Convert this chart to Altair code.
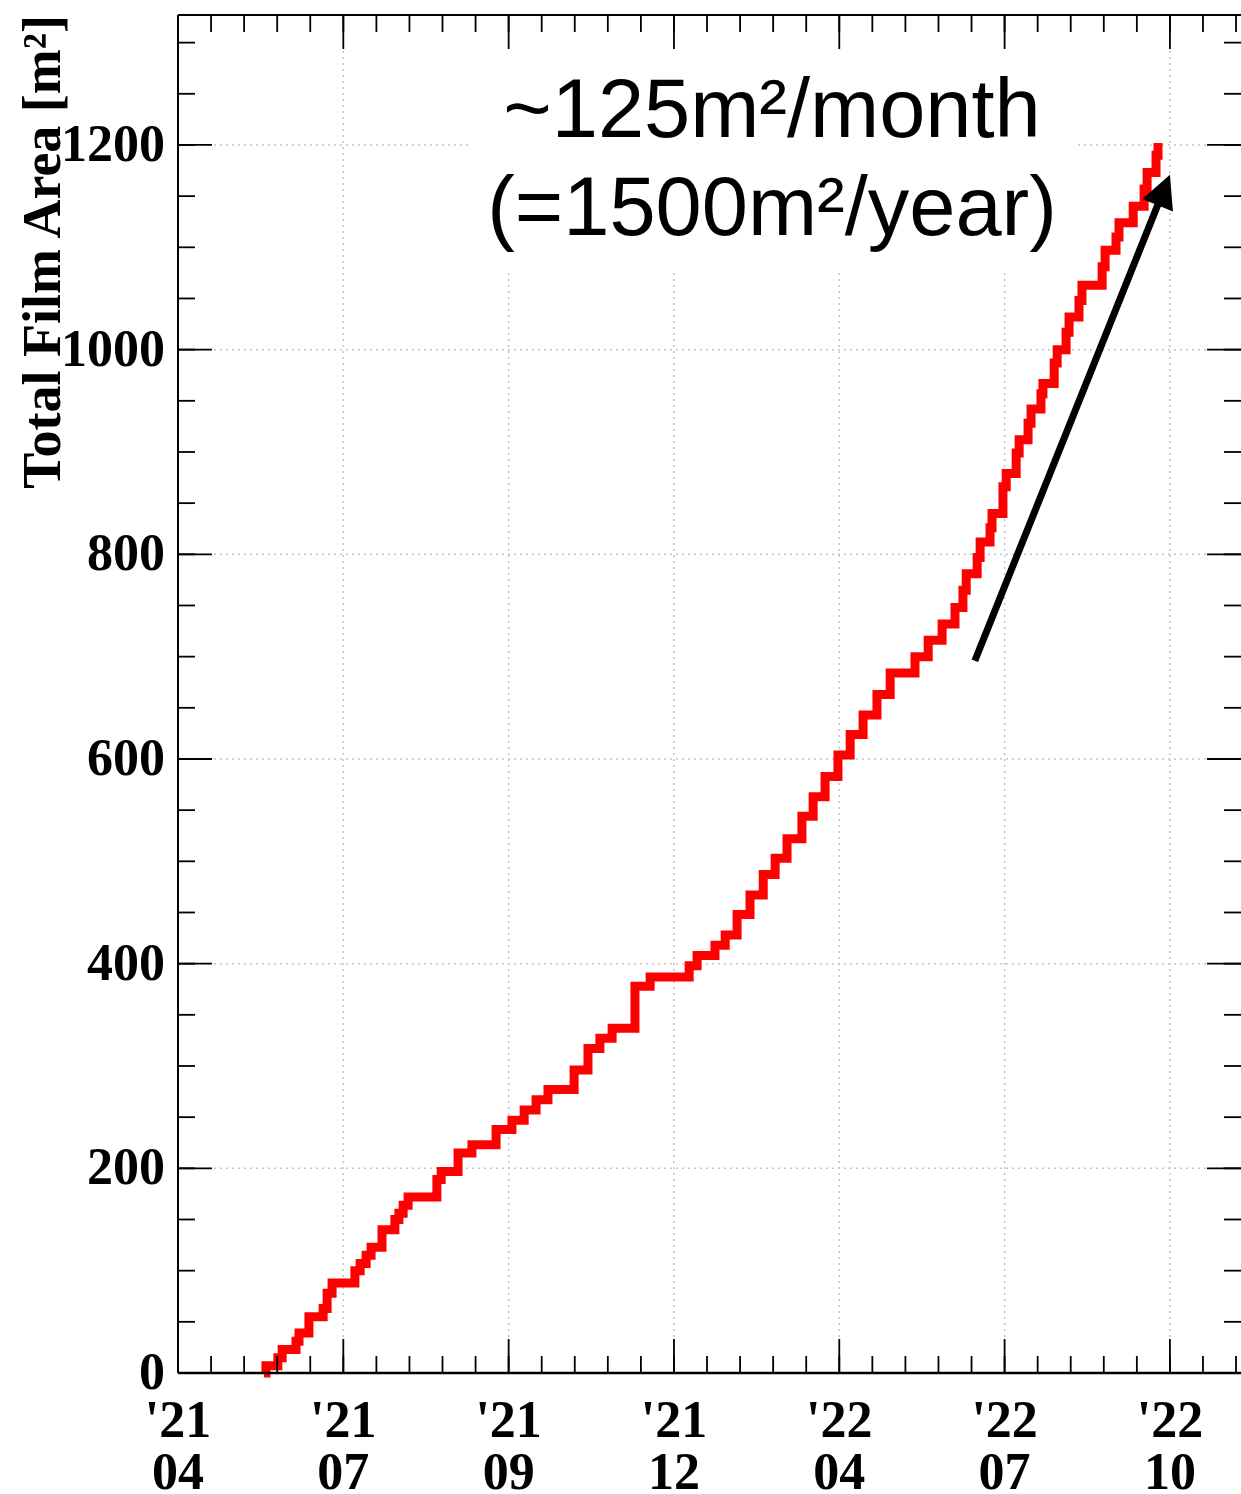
import math

import altair as alt
import pandas as pd

# Cumulative film area: each point starts a plateau (step-after)
step_x = [2.60, 2.66, 3.02, 3.15, 3.57, 3.66, 3.96, 4.39, 4.51, 4.66,
          5.35, 5.51, 5.69, 5.84, 6.17, 6.56, 6.68, 6.81, 6.96, 7.83,
          7.96, 8.47, 8.89, 9.62, 10.10, 10.47, 10.83, 11.19, 11.98, 12.40,
          12.76, 13.13, 13.82, 14.28, 15.46, 15.70, 16.24, 16.55, 16.91, 17.30,
          17.70, 18.06, 18.42, 18.87, 19.21, 19.57, 19.96, 20.33, 20.72, 21.14,
          21.54, 22.29, 22.69, 23.11, 23.50, 23.74, 23.84, 24.17, 24.26, 24.56,
          24.62, 24.95, 25.05, 25.35, 25.44, 25.71, 25.80, 26.10, 26.16, 26.50,
          26.59, 26.86, 26.95, 27.25, 27.34, 27.95, 28.04, 28.37, 28.46, 28.89,
          29.22, 29.31, 29.58, 29.64]
step_y = [0, 7, 15, 23, 31, 39, 55, 63, 78, 88,
          100, 107, 115, 123, 140, 150, 156, 164, 172, 189,
          197, 215, 223, 238, 247, 257, 267, 277, 296, 317,
          327, 337, 378, 387, 398, 408, 418, 428, 448, 467,
          487, 503, 522, 544, 563, 583, 604, 624, 643, 663,
          684, 700, 716, 732, 748, 765, 781, 797, 812, 826,
          840, 866, 879, 899, 912, 928, 942, 957, 967, 987,
          1000, 1017, 1032, 1048, 1063, 1081, 1097, 1110, 1124, 1140,
          1157, 1173, 1190, 1202]

# Axis ticks and labels
x_major = [0, 5, 10, 15, 20, 25, 30]
x_minor = list(range(0, 33))
x_year = ["'21", "'21", "'21", "'21", "'22", "'22", "'22"]
x_month = ["04", "07", "09", "12", "04", "07", "10"]
y_major = [0, 200, 400, 600, 800, 1000, 1200]
y_minor = list(range(0, 1301, 50))
y_title = "Total Film Area [m²]"

# Trend arrow and its note
arrow_start = (24.1, 696)
arrow_tip = (30.0, 1171)
note_lines = ["~125m²/month", "(=1500m²/year)"]

X_MAX = 32.15
Y_MAX = 1327
W, H = 1063, 1358
MAJOR_LEN, MINOR_LEN = 34, 17
SERIF = "Liberation Serif"
SANS = "Liberation Sans"
GRID = dict(color="#c4c4c4", strokeDash=[2, 4], strokeWidth=1.5)

xs = alt.Scale(domain=[0, X_MAX], nice=False, zero=False)
ys = alt.Scale(domain=[0, Y_MAX], nice=False, zero=False)


def X(field):
    return alt.X(field, scale=xs, axis=None)


def Y(field):
    return alt.Y(field, scale=ys, axis=None)


one_row = pd.DataFrame({"k": [0]})

# Dotted grid at the major ticks
grid_v = alt.Chart(pd.DataFrame({"v": x_major})).mark_rule(**GRID).encode(
    x=X("v:Q"), y=alt.value(0), y2=alt.value(H)
)
grid_h = alt.Chart(pd.DataFrame({"v": y_major})).mark_rule(**GRID).encode(
    y=Y("v:Q"), x=alt.value(0), x2=alt.value(W)
)

# White backing behind the rate note
note_box = alt.Chart(one_row).mark_rect(color="white").encode(
    x=alt.value(292), x2=alt.value(897), y=alt.value(2), y2=alt.value(255)
)

curve = alt.Chart(pd.DataFrame({"x": step_x, "y": step_y})).mark_line(
    color="#ff0000", strokeWidth=9, interpolate="step-after",
    strokeCap="butt", strokeJoin="miter",
).encode(x=X("x:Q"), y=Y("y:Q"))

# Arrow: shaft ends inside the head, head rotated along the shaft
px_x, px_y = W / X_MAX, H / Y_MAX
dx = (arrow_tip[0] - arrow_start[0]) * px_x
dy = (arrow_tip[1] - arrow_start[1]) * px_y
length = math.hypot(dx, dy)
angle = math.degrees(math.atan2(dx, dy))
inset = 25
shaft_end = (arrow_tip[0] - inset * dx / length / px_x,
             arrow_tip[1] - inset * dy / length / px_y)

shaft = alt.Chart(pd.DataFrame({
    "x": [arrow_start[0]], "y": [arrow_start[1]],
    "x2": [shaft_end[0]], "y2": [shaft_end[1]],
})).mark_rule(color="black", strokeWidth=7, strokeCap="butt").encode(
    x=X("x:Q"), x2="x2:Q", y=Y("y:Q"), y2="y2:Q",
)
head = alt.Chart(pd.DataFrame({"x": [arrow_tip[0]], "y": [arrow_tip[1]]})).mark_point(
    shape="M0,0L1,2L-1,2Z", filled=True, size=1089, angle=round(angle, 2),
    color="black", opacity=1, strokeWidth=0,
).encode(x=X("x:Q"), y=Y("y:Q"))

note1 = alt.Chart(one_row).mark_text(
    text=note_lines[0], font=SANS, fontSize=83, color="black",
    align="center", baseline="alphabetic",
).encode(x=alt.value(594), y=alt.value(122))
note2 = alt.Chart(one_row).mark_text(
    text=note_lines[1], font=SANS, fontSize=83, color="black",
    align="center", baseline="alphabetic",
).encode(x=alt.value(594), y=alt.value(220))


def y_ticks(values, size, side):
    x0, x1 = (0, size) if side == "left" else (W - size, W)
    return alt.Chart(pd.DataFrame({"v": values})).mark_rule(
        color="black", strokeWidth=1.8
    ).encode(y=Y("v:Q"), x=alt.value(x0), x2=alt.value(x1))


def x_ticks(values, size, side):
    y0, y1 = (0, size) if side == "top" else (H - size, H)
    return alt.Chart(pd.DataFrame({"v": values})).mark_rule(
        color="black", strokeWidth=1.8
    ).encode(x=X("v:Q"), y=alt.value(y0), y2=alt.value(y1))


ticks = [
    y_ticks(y_minor, MINOR_LEN, "left"), y_ticks(y_major, MAJOR_LEN, "left"),
    y_ticks(y_minor, MINOR_LEN, "right"), y_ticks(y_major, MAJOR_LEN, "right"),
    x_ticks(x_minor, MINOR_LEN, "top"), x_ticks(x_major, MAJOR_LEN, "top"),
    x_ticks(x_minor, MINOR_LEN, "bottom"), x_ticks(x_major, MAJOR_LEN, "bottom"),
]

# Frame: left, top and bottom edges of the plot
frame = [
    alt.Chart(one_row).mark_rule(color="black", strokeWidth=2).encode(
        x=alt.value(0), y=alt.value(0), y2=alt.value(H)),
    alt.Chart(one_row).mark_rule(color="black", strokeWidth=2).encode(
        x=alt.value(0), x2=alt.value(W), y=alt.value(0)),
    alt.Chart(one_row).mark_rule(color="black", strokeWidth=2.5).encode(
        x=alt.value(0), x2=alt.value(W), y=alt.value(H)),
]

# Tick labels and axis title
label_style = dict(font=SERIF, fontWeight="bold", fontSize=52, color="black")
y_labels = alt.Chart(pd.DataFrame({"v": y_major, "t": [str(v) for v in y_major]})).mark_text(
    align="right", baseline="middle", **label_style
).encode(y=Y("v:Q"), x=alt.value(-13), text="t:N")

x_label_df = pd.DataFrame({"v": x_major, "yr": x_year, "mo": x_month})
x_labels_year = alt.Chart(x_label_df).mark_text(
    align="center", baseline="alphabetic", **label_style
).encode(x=X("v:Q"), y=alt.value(H + 64), text="yr:N")
x_labels_month = alt.Chart(x_label_df).mark_text(
    align="center", baseline="alphabetic", **label_style
).encode(x=X("v:Q"), y=alt.value(H + 116), text="mo:N")

title = alt.Chart(one_row).mark_text(
    text=y_title, font=SERIF, fontWeight="bold", fontSize=54, color="black",
    angle=270, align="right", baseline="alphabetic",
).encode(x=alt.value(-118), y=alt.value(0))

chart = alt.layer(
    grid_v, grid_h, note_box, curve, shaft, head, note1, note2,
    *ticks, *frame, y_labels, x_labels_year, x_labels_month, title,
).properties(
    width=W, height=H,
    autosize=alt.AutoSizeParams(type="none"),
    padding={"left": 178, "top": 15, "right": 0, "bottom": 121},
).configure_view(stroke=None)

chart.save("out.html", embed_options={"renderer": "svg", "actions": False})
